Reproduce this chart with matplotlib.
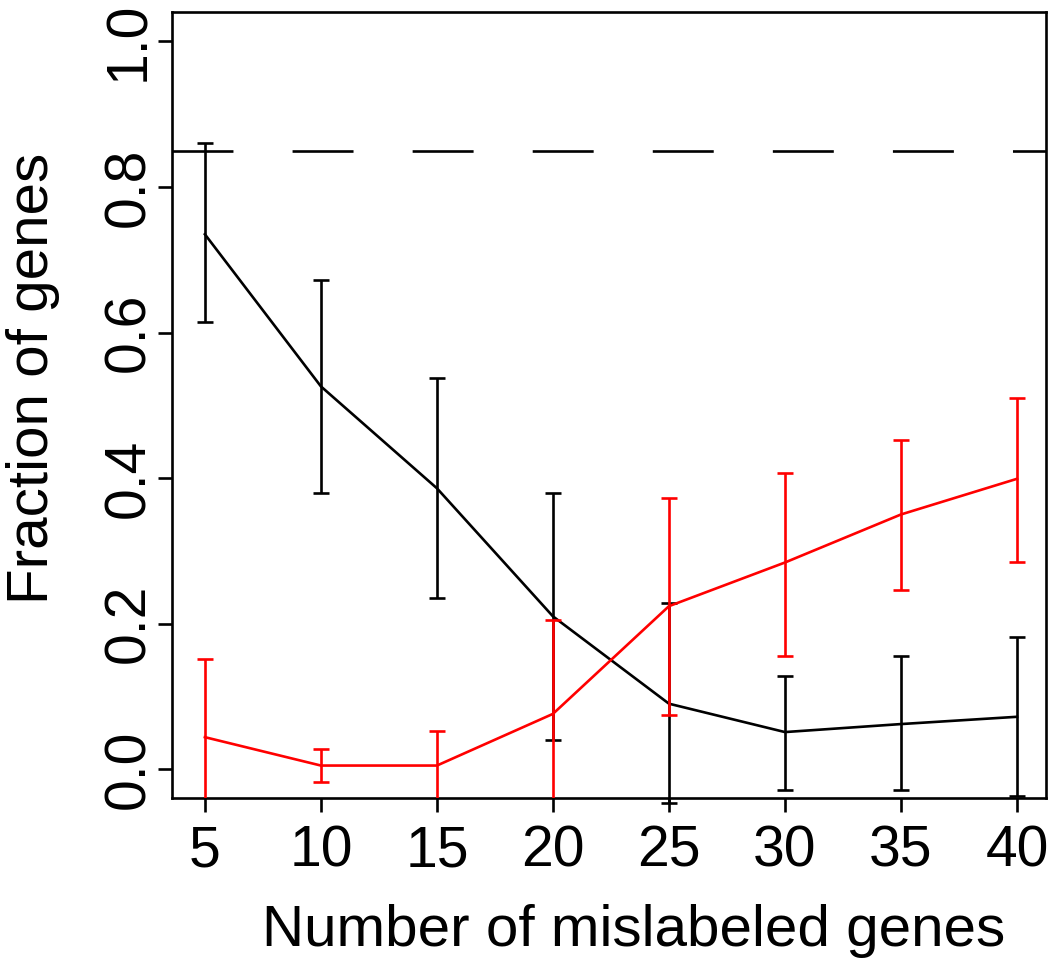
import matplotlib
matplotlib.use("Agg")
import matplotlib.pyplot as plt

plt.rcParams['font.family'] = ['Liberation Sans', 'DejaVu Sans']

x = [5, 10, 15, 20, 25, 30, 35, 40]
black_mean = [0.735, 0.526, 0.386, 0.210, 0.090, 0.051, 0.062, 0.072]
black_low = [0.615, 0.379, 0.235, 0.040, -0.047, -0.029, -0.028, -0.037]
black_high = [0.861, 0.672, 0.537, 0.380, 0.228, 0.128, 0.155, 0.182]
red_mean = [0.044, 0.005, 0.005, 0.076, 0.224, 0.284, 0.350, 0.399]
red_low = [-0.063, -0.017, -0.042, -0.053, 0.075, 0.155, 0.246, 0.285]
red_high = [0.151, 0.028, 0.052, 0.205, 0.373, 0.407, 0.453, 0.510]
ref_level = 0.85
xticks = [5, 10, 15, 20, 25, 30, 35, 40]
yticks = [0.0, 0.2, 0.4, 0.6, 0.8, 1.0]
xlabel = "Number of mislabeled genes"
ylabel = "Fraction of genes"

W, H = 1050, 958
fig = plt.figure(figsize=(W / 100, H / 100), dpi=100)
l, r, t, b = 171.7, 1046, 12.3, 798.3
ax = fig.add_axes([l / W, 1 - b / H, (r - l) / W, (b - t) / H])
ax.set_xlim(3.57, 41.25)
ax.set_ylim(-0.04, 1.04)

lw = 1.9
ax.axhline(ref_level, color='black', lw=lw, dashes=(23.1, 22.4))

for mean, lo, hi, col, clip in [(black_mean, black_low, black_high, 'black', False),
                                (red_mean, red_low, red_high, '#ff0000', True)]:
    ax.plot(x, mean, color=col, lw=lw, zorder=3)
    yerr = [[m - lo_ for m, lo_ in zip(mean, lo)], [hi_ - m for m, hi_ in zip(mean, hi)]]
    eb = ax.errorbar(x, mean, yerr=yerr, fmt='none', ecolor=col, elinewidth=lw,
                     capsize=5.8, capthick=lw, zorder=3)
    for art in list(eb.lines[1]) + list(eb.lines[2]):
        art.set_clip_on(clip)

ax.set_xticks(xticks)
ax.set_xticklabels([str(v) for v in xticks])
ax.set_yticks(yticks)
ax.set_yticklabels([f"{v:.1f}" for v in yticks], rotation=90, va='center')
ax.tick_params(axis='both', direction='out', length=10, width=lw, labelsize=41)
ax.tick_params(axis='x', pad=9)
ax.tick_params(axis='y', pad=1)
for s in ax.spines.values():
    s.set_linewidth(lw)

fig.text(633.5 / W, 1 - 946 / H, xlabel, fontsize=42, ha='center', va='baseline')
fig.text(48 / W, 1 - 378 / H, ylabel, fontsize=42, rotation=90, rotation_mode='anchor',
         ha='center', va='baseline')

fig.savefig("out.png", dpi=100)
